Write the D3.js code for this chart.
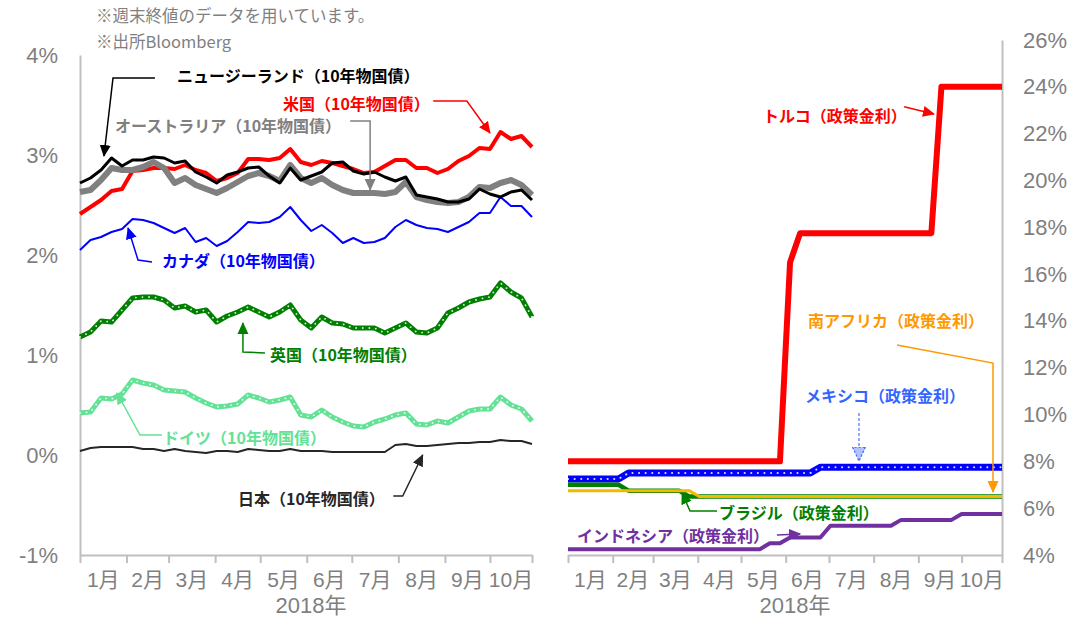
<!DOCTYPE html>
<html>
<head>
<meta charset="utf-8">
<script src="https://cdn.jsdelivr.net/npm/d3@7"></script>
<style>
body { margin: 0; background: #fff; }
</style>
</head>
<body>
<svg id="chart" width="1087" height="622"></svg>
<script>
// weekly closes, 2018
var monthLabels = ["1月", "2月", "3月", "4月", "5月", "6月", "7月", "8月", "9月", "10月"];
var bondTicks = [-1, 0, 1, 2, 3, 4];
var rateTicks = [4, 6, 8, 10, 12, 14, 16, 18, 20, 22, 24, 26];
var yearLabel = "2018年";

// 10年物国債 (%)
var us = [2.41, 2.48, 2.55, 2.64, 2.66, 2.84, 2.85, 2.87, 2.87, 2.86, 2.90, 2.85, 2.82, 2.74, 2.77, 2.82, 2.96, 2.96, 2.95, 2.97, 3.06, 2.93, 2.90, 2.94, 2.92, 2.89, 2.86, 2.82, 2.83, 2.89, 2.95, 2.95, 2.87, 2.87, 2.82, 2.86, 2.94, 2.99, 3.07, 3.06, 3.23, 3.16, 3.19, 3.08];
var nz = [2.72, 2.77, 2.85, 2.97, 2.89, 2.95, 2.95, 2.98, 2.97, 2.92, 2.94, 2.83, 2.78, 2.72, 2.80, 2.83, 2.87, 2.88, 2.79, 2.72, 2.87, 2.75, 2.79, 2.83, 2.92, 2.93, 2.84, 2.81, 2.83, 2.78, 2.74, 2.78, 2.60, 2.58, 2.56, 2.53, 2.53, 2.56, 2.66, 2.61, 2.58, 2.63, 2.65, 2.55];
var australia = [2.63, 2.65, 2.75, 2.87, 2.85, 2.85, 2.88, 2.93, 2.87, 2.72, 2.77, 2.70, 2.66, 2.62, 2.67, 2.73, 2.79, 2.82, 2.79, 2.74, 2.90, 2.77, 2.72, 2.77, 2.70, 2.65, 2.62, 2.62, 2.62, 2.61, 2.63, 2.73, 2.58, 2.55, 2.53, 2.52, 2.53, 2.58, 2.68, 2.67, 2.72, 2.75, 2.70, 2.60];
var canada = [2.05, 2.15, 2.18, 2.23, 2.26, 2.36, 2.35, 2.32, 2.27, 2.22, 2.27, 2.13, 2.17, 2.09, 2.14, 2.23, 2.33, 2.32, 2.33, 2.38, 2.48, 2.35, 2.24, 2.30, 2.22, 2.12, 2.17, 2.12, 2.13, 2.17, 2.28, 2.35, 2.30, 2.27, 2.26, 2.23, 2.28, 2.33, 2.42, 2.42, 2.58, 2.49, 2.49, 2.38];
var uk = [1.18, 1.23, 1.34, 1.33, 1.45, 1.57, 1.58, 1.58, 1.55, 1.47, 1.49, 1.43, 1.45, 1.33, 1.39, 1.43, 1.48, 1.43, 1.38, 1.43, 1.50, 1.35, 1.27, 1.38, 1.32, 1.31, 1.27, 1.27, 1.27, 1.22, 1.27, 1.32, 1.23, 1.22, 1.27, 1.42, 1.47, 1.53, 1.56, 1.58, 1.72, 1.63, 1.57, 1.38];
var germany = [0.42, 0.43, 0.57, 0.56, 0.61, 0.75, 0.72, 0.70, 0.65, 0.64, 0.63, 0.57, 0.52, 0.48, 0.49, 0.51, 0.60, 0.57, 0.53, 0.55, 0.58, 0.40, 0.38, 0.45, 0.38, 0.33, 0.29, 0.28, 0.33, 0.36, 0.40, 0.42, 0.31, 0.30, 0.34, 0.32, 0.38, 0.44, 0.46, 0.46, 0.58, 0.50, 0.46, 0.34];
var japan = [0.04, 0.07, 0.08, 0.08, 0.08, 0.08, 0.06, 0.06, 0.04, 0.06, 0.04, 0.03, 0.02, 0.04, 0.04, 0.03, 0.06, 0.05, 0.04, 0.04, 0.06, 0.04, 0.04, 0.04, 0.03, 0.03, 0.03, 0.03, 0.03, 0.03, 0.10, 0.11, 0.09, 0.09, 0.10, 0.11, 0.12, 0.12, 0.13, 0.13, 0.15, 0.14, 0.14, 0.11];

// 政策金利 (%)
var turkey = [8, 8, 8, 8, 8, 8, 8, 8, 8, 8, 8, 8, 8, 8, 8, 8, 8, 8, 8, 8, 8, 8, 16.5, 17.75, 17.75, 17.75, 17.75, 17.75, 17.75, 17.75, 17.75, 17.75, 17.75, 17.75, 17.75, 17.75, 17.75, 24, 24, 24, 24, 24, 24, 24];
var mexico = [7.25, 7.25, 7.25, 7.25, 7.25, 7.25, 7.5, 7.5, 7.5, 7.5, 7.5, 7.5, 7.5, 7.5, 7.5, 7.5, 7.5, 7.5, 7.5, 7.5, 7.5, 7.5, 7.5, 7.5, 7.5, 7.75, 7.75, 7.75, 7.75, 7.75, 7.75, 7.75, 7.75, 7.75, 7.75, 7.75, 7.75, 7.75, 7.75, 7.75, 7.75, 7.75, 7.75, 7.75];
var brazil = [7, 7, 7, 7, 7, 7, 6.75, 6.75, 6.75, 6.75, 6.75, 6.75, 6.5, 6.5, 6.5, 6.5, 6.5, 6.5, 6.5, 6.5, 6.5, 6.5, 6.5, 6.5, 6.5, 6.5, 6.5, 6.5, 6.5, 6.5, 6.5, 6.5, 6.5, 6.5, 6.5, 6.5, 6.5, 6.5, 6.5, 6.5, 6.5, 6.5, 6.5, 6.5];
var southAfrica = [6.75, 6.75, 6.75, 6.75, 6.75, 6.75, 6.75, 6.75, 6.75, 6.75, 6.75, 6.75, 6.75, 6.5, 6.5, 6.5, 6.5, 6.5, 6.5, 6.5, 6.5, 6.5, 6.5, 6.5, 6.5, 6.5, 6.5, 6.5, 6.5, 6.5, 6.5, 6.5, 6.5, 6.5, 6.5, 6.5, 6.5, 6.5, 6.5, 6.5, 6.5, 6.5, 6.5, 6.5];
var indonesia = [4.25, 4.25, 4.25, 4.25, 4.25, 4.25, 4.25, 4.25, 4.25, 4.25, 4.25, 4.25, 4.25, 4.25, 4.25, 4.25, 4.25, 4.25, 4.25, 4.25, 4.5, 4.5, 4.75, 4.75, 4.75, 4.75, 5.25, 5.25, 5.25, 5.25, 5.25, 5.25, 5.25, 5.5, 5.5, 5.5, 5.5, 5.5, 5.5, 5.75, 5.75, 5.75, 5.75, 5.75];

var weeks = d3.utcMonday.range(new Date(Date.UTC(2018, 0, 1)), new Date(Date.UTC(2018, 9, 30)));

var AXIS = "#BFBFBF",
	LABEL = "#7F7F7F",
	LATIN = "'Liberation Sans', 'Noto Sans CJK JP', sans-serif",
	JP = "'Noto Sans CJK JP', sans-serif";

var svg = d3.select("#chart");
var defs = svg.append("defs");
svg.append("rect").attr("width", 1087).attr("height", 622).attr("fill", "#fff");

var xL = d3.scaleUtc().domain([weeks[0], weeks[weeks.length - 1]]).range([80, 532]),
	yL = d3.scaleLinear().domain([-1, 4]).range([555, 55]),
	xR = d3.scaleUtc().domain([weeks[0], weeks[weeks.length - 1]]).range([568, 1002]),
	yR = d3.scaleLinear().domain([4, 26]).range([555, 40]);

var monthStarts = d3.utcMonth.range(weeks[0], weeks[weeks.length - 1]);
var xTickDates = monthStarts.concat([weeks[weeks.length - 1]]);

function weekAt(w) {
	return new Date(+weeks[0] + w * 7 * 86400000);
}

var markerCount = 0;
function arrowMarker(color, stroke) {
	var id = "arrow" + (markerCount++);
	var size = stroke ? 14 : 12;
	var p = defs.append("marker")
		.attr("id", id)
		.attr("viewBox", "0 0 12 12")
		.attr("refX", 11)
		.attr("refY", 6)
		.attr("markerWidth", size)
		.attr("markerHeight", size)
		.attr("markerUnits", "userSpaceOnUse")
		.attr("orient", "auto")
		.append("path")
		.attr("d", "M0,0.5L12,6L0,11.5Z")
		.attr("fill", color);
	if (stroke) p.attr("stroke", stroke).attr("stroke-width", 1).attr("stroke-dasharray", "2,1.5");
	return "url(#" + id + ")";
}

function drawXAxis(x) {
	var g = svg.append("g")
		.attr("transform", "translate(0,555)")
		.call(d3.axisBottom(x).tickValues(xTickDates).tickSize(8).tickSizeOuter(0).tickFormat(""));
	g.select(".domain").attr("stroke", AXIS).attr("stroke-width", 2);
	g.selectAll(".tick line").attr("stroke", AXIS).attr("stroke-width", 2);

	monthStarts.forEach(function (d, i) {
		svg.append("text")
			.attr("x", (x(d) + x(xTickDates[i + 1])) / 2)
			.attr("y", 587)
			.attr("text-anchor", "middle")
			.attr("font-family", LATIN)
			.attr("font-size", 21)
			.attr("fill", LABEL)
			.text(monthLabels[i]);
	});
}

function styleYAxis(g) {
	g.attr("font-size", 22).attr("font-family", LATIN);
	g.select(".domain").attr("stroke", AXIS).attr("stroke-width", 2);
	g.selectAll(".tick line").remove();
	g.selectAll(".tick text").attr("fill", LABEL);
}

function pct(d) { return d + "%"; }

// axes
drawXAxis(xL);
drawXAxis(xR);

svg.append("g")
	.attr("transform", "translate(80,0)")
	.call(d3.axisLeft(yL).tickValues(bondTicks).tickSize(0).tickPadding(22).tickSizeOuter(0).tickFormat(pct))
	.call(styleYAxis);

svg.append("g")
	.attr("transform", "translate(1002,0)")
	.call(d3.axisRight(yR).tickValues(rateTicks).tickSize(0).tickPadding(21).tickSizeOuter(0).tickFormat(pct))
	.call(styleYAxis);

[[xL, 311], [xR, 795]].forEach(function (a) {
	svg.append("text")
		.attr("x", a[1])
		.attr("y", 613)
		.attr("text-anchor", "middle")
		.attr("font-family", LATIN)
		.attr("font-size", 22)
		.attr("fill", LABEL)
		.text(yearLabel);
});

// series
function drawLine(x, y, s) {
	var line = d3.line()
		.x(function (d, i) { return x(weeks[i]); })
		.y(function (d) { return y(d); });
	svg.append("path")
		.datum(s.values)
		.attr("d", line)
		.attr("fill", "none")
		.attr("stroke", s.color)
		.attr("stroke-width", s.width)
		.attr("stroke-linejoin", "round");
	if (s.dots) {
		svg.append("path")
			.datum(s.values)
			.attr("d", line)
			.attr("fill", "none")
			.attr("stroke", "#fff")
			.attr("stroke-width", s.dots)
			.attr("stroke-linecap", "round")
			.attr("stroke-dasharray", "0.1,6.5")
			.attr("opacity", 0.85);
	}
}

var bondSeries = [
	{values: japan, color: "#262626", width: 2},
	{values: germany, color: "#63E296", width: 5, dots: 1.8},
	{values: uk, color: "#008000", width: 5, dots: 1.8},
	{values: canada, color: "#0000FF", width: 2},
	{values: us, color: "#FF0000", width: 4},
	{values: australia, color: "#808080", width: 6},
	{values: nz, color: "#000000", width: 3}
];

var rateSeries = [
	{values: turkey, color: "#FF0000", width: 6},
	{values: mexico, color: "#0000FF", width: 7, dots: 2},
	{values: brazil, color: "#008000", width: 4.5},
	{values: southAfrica, color: "#F5B800", width: 3},
	{values: indonesia, color: "#7030A0", width: 4}
];

bondSeries.forEach(function (s) { drawLine(xL, yL, s); });
rateSeries.forEach(function (s) { drawLine(xR, yR, s); });

// annotations: positions in [week, value]
var bondNotes = [
	{text: "ニュージーランド（10年物国債）", color: "#000000", at: [9.23, 3.80], arrow: [[7.13, 3.77], [3.14, 3.77], [2.28, 2.99]]},
	{text: "米国（10年物国債）", color: "#FF0000", at: [19.31, 3.52], arrow: [[33.6, 3.54], [36.8, 3.54], [39.0, 3.22]]},
	{text: "オーストラリア（10年物国債）", color: "#808080", at: [3.33, 3.30], arrow: [[25.7, 3.34], [27.6, 3.34], [27.6, 2.65]]},
	{text: "カナダ（10年物国債）", color: "#0000FF", at: [7.8, 1.95], arrow: [[6.85, 1.93], [5.52, 1.95], [4.57, 2.27]]},
	{text: "英国（10年物国債）", color: "#008000", at: [18.07, 1.01], arrow: [[17.6, 1.02], [15.5, 1.03], [15.5, 1.32]]},
	{text: "ドイツ（10年物国債）", color: "#63E296", at: [7.9, 0.18], arrow: [[7.8, 0.20], [5.71, 0.20], [3.52, 0.62]]},
	{text: "日本（10年物国債）", color: "#262626", at: [15.03, -0.43], arrow: [[29.8, -0.41], [30.7, -0.41], [32.6, 0.0]]}
];

var rateNotes = [
	{text: "トルコ（政策金利）", color: "#FF0000", at: [19.32, 22.8], arrow: [[33.3, 23.15], [36.26, 22.84]]},
	{text: "南アフリカ（政策金利）", color: "#FF9900", at: [23.78, 14.04], arrow: [[32.6, 12.97], [42.11, 12.2], [42.11, 6.69]]},
	{text: "メキシコ（政策金利）", color: "#3366FF", at: [23.48, 10.83], arrow: [[28.83, 10.07], [28.83, 8.06]], dashed: true},
	{text: "ブラジル（政策金利）", color: "#008000", at: [14.96, 5.84], arrow: [[14.76, 5.88], [12.09, 5.88], [11.3, 6.65]]},
	{text: "インドネシア（政策金利）", color: "#7030A0", at: [0.89, 4.85], arrow: [[20.7, 4.85], [22.99, 4.9]]}
];

function drawNote(x, y, n) {
	var line = d3.line()
		.x(function (p) { return x(weekAt(p[0])); })
		.y(function (p) { return y(p[1]); });
	var path = svg.append("path")
		.datum(n.arrow)
		.attr("d", line)
		.attr("fill", "none")
		.attr("stroke", n.dashed ? "#6F8CFF" : n.color)
		.attr("stroke-width", 1.5);
	if (n.dashed) {
		path.attr("stroke-dasharray", "3,2").attr("marker-end", arrowMarker("#B3C2FF", "#3366FF"));
	} else {
		path.attr("marker-end", arrowMarker(n.color));
	}
	svg.append("text")
		.attr("x", x(weekAt(n.at[0])))
		.attr("y", y(n.at[1]))
		.attr("dominant-baseline", "central")
		.attr("font-family", JP)
		.attr("font-weight", "bold")
		.attr("font-size", 16)
		.attr("fill", n.color)
		.text(n.text);
}

bondNotes.forEach(function (n) { drawNote(xL, yL, n); });
rateNotes.forEach(function (n) { drawNote(xR, yR, n); });

// notes at top
svg.append("text")
	.attr("x", 96).attr("y", 15)
	.attr("dominant-baseline", "central")
	.attr("font-family", JP).attr("font-size", 16.5).attr("fill", LABEL)
	.text("※週末終値のデータを用いています。");
svg.append("text")
	.attr("x", 96).attr("y", 41)
	.attr("dominant-baseline", "central")
	.attr("font-family", JP).attr("font-size", 16.5).attr("fill", LABEL)
	.text("※出所Bloomberg");
</script>
</body>
</html>
